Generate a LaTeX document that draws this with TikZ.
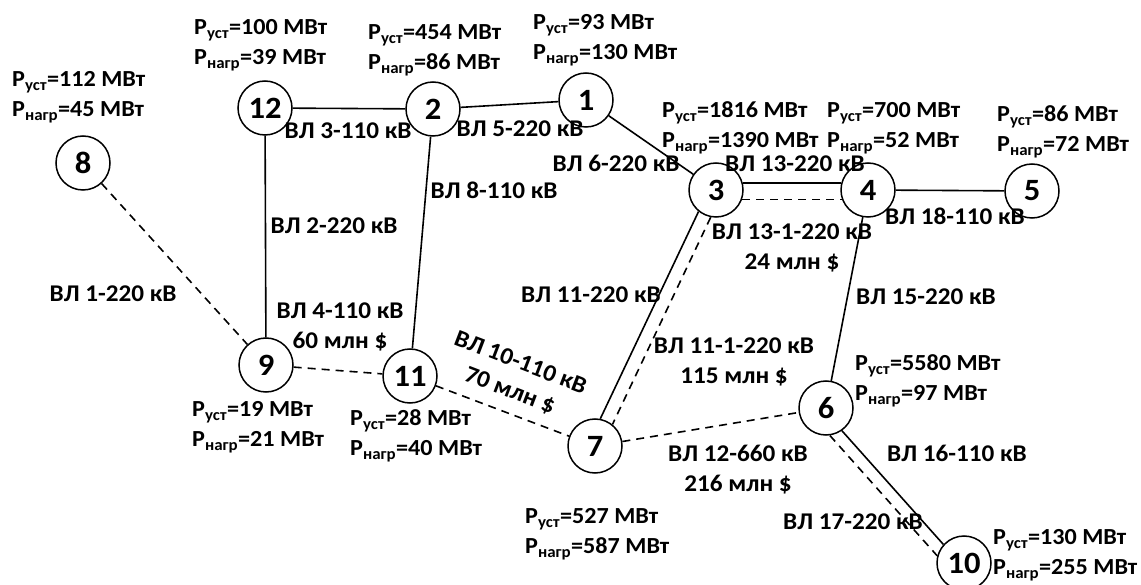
\documentclass[tikz,border=0pt]{standalone}
\usepackage{fontspec}
\setmainfont{Carlito}[FakeStretch=1.05]
\begin{document}
\begin{tikzpicture}[x=1pt,y=-1pt,
  bus/.style={circle, draw, line width=1.5pt, minimum size=54pt, inner sep=0pt, font=\fontsize{31}{31}\selectfont\bfseries},
  info/.style={align=left, anchor=west, inner sep=0pt, font=\fontsize{23}{30}\selectfont\bfseries},
  lbl/.style={align=center, inner sep=0pt, font=\fontsize{24}{30}\selectfont\bfseries},
  ln/.style={line width=1.6pt},
  cand/.style={line width=1.6pt, dash pattern=on 8pt off 6pt}]
\fill[white] (0,0) rectangle (1141,585);
\useasboundingbox (0,0) rectangle (1141,585);
% buses
\node[bus] (n1) at (586,100) {1};
\node[bus] (n2) at (433,109) {2};
\node[bus] (n3) at (716,190) {3};
\node[bus] (n4) at (868,190) {4};
\node[bus] (n5) at (1032,191) {5};
\node[bus] (n6) at (826,408) {6};
\node[bus] (n7) at (595,446) {7};
\node[bus] (n8) at (83,163) {8};
\node[bus] (n9) at (266,365) {9};
\node[bus] (n10) at (964,563) {10};
\node[bus] (n11) at (410,376) {11};
\node[bus] (n12) at (265,108) {12};
% lines
\draw[ln] (n12) -- (n2);
\draw[ln] (n2) -- (n1);
\draw[ln] (n1) -- (n3);
\draw[ln] (n3.15) -- (n4.165);
\draw[cand] (n3.340) -- (n4.200);
\draw[ln] (n4) -- (n5);
\draw[ln] (n12) -- (n9);
\draw[ln] (n2) -- (n11);
\draw[cand] (n8) -- (n9);
\draw[cand] (n9) -- (n11);
\draw[cand] (n11) -- (n7);
\draw[cand] (n7) -- (n6);
\draw[ln] (n4) -- (n6);
\draw[ln] (n3.231) -- (n7.79);
\draw[cand] (n3.259) -- (n7.51);
\draw[ln] (n6.305) -- (n10.138);
\draw[cand] (n6.278) -- (n10.165);
% bus data
\node[info] (i8) at (12,97) {P\textsubscript{уст}=112 МВт\\P\textsubscript{нагр}=45 МВт};
\node[info] (i12) at (194,45.5) {P\textsubscript{уст}=100 МВт\\P\textsubscript{нагр}=39 МВт};
\node[info] (i2) at (368,50) {P\textsubscript{уст}=454 МВт\\P\textsubscript{нагр}=86 МВт};
\node[info] (i1) at (533,40.5) {P\textsubscript{уст}=93 МВт\\P\textsubscript{нагр}=130 МВт};
\node[info] (i3) at (662,128) {P\textsubscript{уст}=1816 МВт\\P\textsubscript{нагр}=1390 МВт};
\node[info] (i4) at (827,128) {P\textsubscript{уст}=700 МВт\\P\textsubscript{нагр}=52 МВт};
\node[info] (i5) at (997,131.5) {P\textsubscript{уст}=86 МВт\\P\textsubscript{нагр}=72 МВт};
\node[info] (i9) at (192,427) {P\textsubscript{уст}=19 МВт\\P\textsubscript{нагр}=21 МВт};
\node[info] (i11) at (350,436) {P\textsubscript{уст}=28 МВт\\P\textsubscript{нагр}=40 МВт};
\node[info] (i7) at (525,534) {P\textsubscript{уст}=527 МВт\\P\textsubscript{нагр}=587 МВт};
\node[info] (i6) at (855,380.5) {P\textsubscript{уст}=5580 МВт\\P\textsubscript{нагр}=97 МВт};
\node[info] (i10) at (993,555) {P\textsubscript{уст}=130 МВт\\P\textsubscript{нагр}=255 МВт};
% line labels
\node[lbl] (l3) at (348,131) {ВЛ 3-110 кВ};
\node[lbl] (l5) at (520,129) {ВЛ 5-220 кВ};
\node[lbl] (l6) at (616,163) {ВЛ 6-220 кВ};
\node[lbl] (l8) at (494,190) {ВЛ 8-110 кВ};
\node[lbl] (l13) at (795,164) {ВЛ 13-220 кВ};
\node[lbl] (l18) at (955,216) {ВЛ 18-110 кВ};
\node[lbl] (l131) at (792,248) {ВЛ 13-1-220 кВ\\24 млн \$};
\node[lbl] (l2) at (334,226) {ВЛ 2-220 кВ};
\node[lbl] (l1) at (113,294) {ВЛ 1-220 кВ};
\node[lbl] (l4) at (340,327) {ВЛ 4-110 кВ\\60 млн \$};
\node[lbl] (l11) at (591,295) {ВЛ 11-220 кВ};
\node[lbl] (l15) at (926,297) {ВЛ 15-220 кВ};
\node[lbl, rotate=-21] (l10) at (515,377) {ВЛ 10-110 кВ\\70 млн \$};
\node[lbl] (l111) at (734,362) {ВЛ 11-1-220 кВ\\115 млн \$};
\node[lbl] (l12) at (738,470) {ВЛ 12-660 кВ\\216 млн \$};
\node[lbl] (l16) at (957,453) {ВЛ 16-110 кВ};
\node[lbl] (l17) at (853,522) {ВЛ 17-220 кВ};
\end{tikzpicture}
\end{document}
